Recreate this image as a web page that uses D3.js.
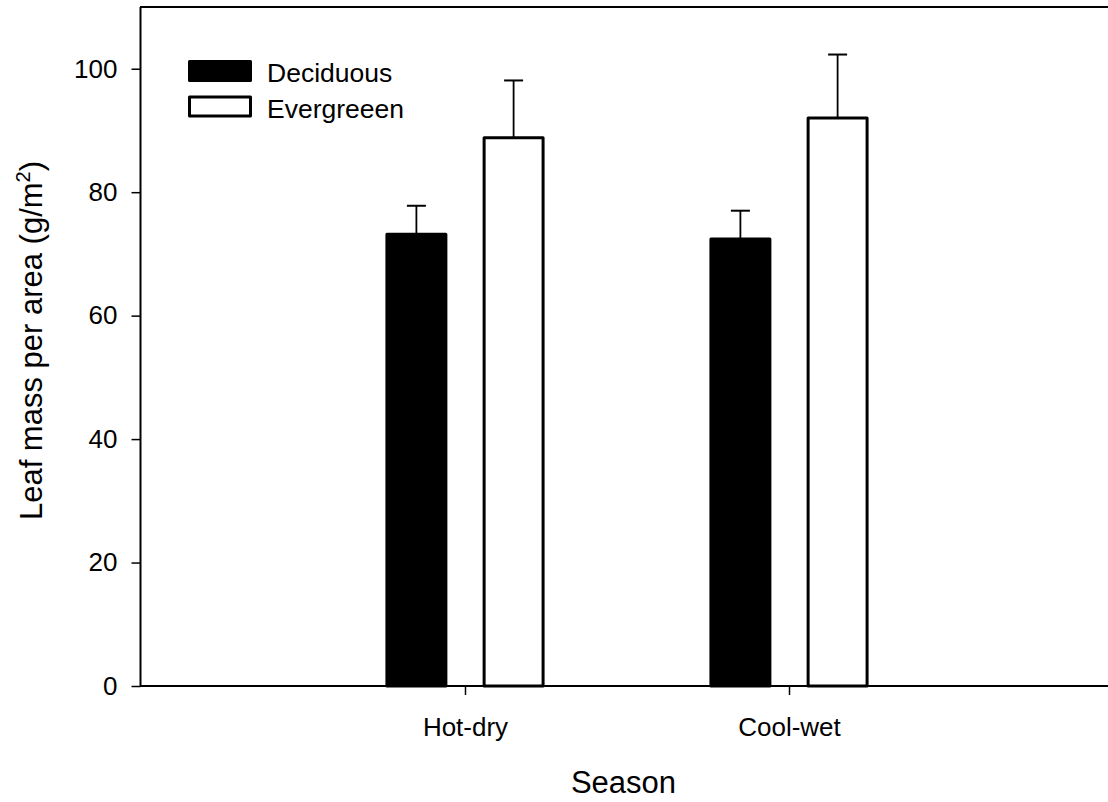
<!DOCTYPE html>
<html>
<head>
<meta charset="utf-8">
<script src="https://cdn.jsdelivr.net/npm/d3@7"></script>
<style>
  html, body { margin: 0; padding: 0; background: #fff; }
  svg { display: block; font-family: "Liberation Sans", Arial, Helvetica, sans-serif; }
</style>
</head>
<body>
<svg id="chart" width="1108" height="802"></svg>
<script>
// Leaf mass per area by season and leaf habit (mean + error)
const categories = ["Hot-dry", "Cool-wet"];
const seriesNames = ["Deciduous", "Evergreeen"];
const deciduousMean = [73.2, 72.4];
const deciduousErr = [4.6, 4.6];
const evergreenMean = [88.8, 92.0];
const evergreenErr = [9.3, 10.3];
const yTicks = [0, 20, 40, 60, 80, 100];

const svg = d3.select("#chart");

const plotLeft = 141, plotRight = 1113, plotTop = 7, plotBottom = 686;

// categories sit at positions 1 and 2 of a 0..3 axis
const x = d3.scaleLinear().domain([0, 3]).range([plotLeft, plotRight]);
const y = d3.scaleLinear().domain([0, 110]).range([plotBottom, plotTop]);

const barOffset = 0.15;   // in axis units
const barWidth = 0.182;   // in axis units
const strokeW = 3;

const series = [
  { name: seriesNames[0], mean: deciduousMean, err: deciduousErr, fill: "#000", off: -barOffset },
  { name: seriesNames[1], mean: evergreenMean, err: evergreenErr, fill: "#fff", off: barOffset }
];

// frame: top line
svg.append("line")
  .attr("x1", plotLeft - 1).attr("x2", 1108)
  .attr("y1", plotTop).attr("y2", plotTop)
  .attr("stroke", "#000").attr("stroke-width", 2);

// y axis
const yAxis = d3.axisLeft(y).tickValues(yTicks).tickSize(9).tickPadding(14).tickSizeOuter(0);
const gy = svg.append("g").attr("transform", `translate(${plotLeft - 0.5},0)`).call(yAxis);
gy.select(".domain").attr("stroke-width", 2).attr("d", `M0,${plotTop}V${plotBottom}`);
gy.selectAll(".tick line").attr("stroke-width", 1.5);
gy.selectAll(".tick text").attr("font-size", 26).attr("fill", "#000")
  .attr("font-family", "'Liberation Sans', Arial, sans-serif");

// x axis
const xAxis = d3.axisBottom(x).tickValues([1, 2])
  .tickFormat((d) => categories[d - 1]).tickSize(9).tickPadding(23).tickSizeOuter(0);
const gx = svg.append("g").attr("transform", `translate(0,${plotBottom})`).call(xAxis);
gx.select(".domain").attr("stroke-width", 2).attr("d", `M${plotLeft - 1},0H1108`);
gx.selectAll(".tick line").attr("stroke-width", 1.5);
gx.selectAll(".tick text").attr("font-size", 26).attr("fill", "#000")
  .attr("font-family", "'Liberation Sans', Arial, sans-serif");

// bars and error bars
const bw = x(barWidth) - x(0);
const capHalf = 9.5;
series.forEach((s) => {
  const g = svg.append("g");
  categories.forEach((c, i) => {
    const cx = x(i + 1 + s.off);
    g.append("line")
      .attr("x1", cx).attr("x2", cx)
      .attr("y1", y(s.mean[i])).attr("y2", y(s.mean[i] + s.err[i]))
      .attr("stroke", "#000").attr("stroke-width", 1.8);
    g.append("line")
      .attr("x1", cx - capHalf).attr("x2", cx + capHalf)
      .attr("y1", y(s.mean[i] + s.err[i])).attr("y2", y(s.mean[i] + s.err[i]))
      .attr("stroke", "#000").attr("stroke-width", 2);
    g.append("rect")
      .attr("x", cx - bw / 2)
      .attr("width", bw)
      .attr("y", y(s.mean[i]))
      .attr("height", y(0) - y(s.mean[i]))
      .attr("fill", s.fill)
      .attr("stroke", "#000")
      .attr("stroke-width", strokeW)
      .attr("stroke-linejoin", "round");
  });
});

// legend
const legend = svg.append("g").attr("transform", "translate(189.5,61.5)");
series.forEach((s, i) => {
  const row = legend.append("g").attr("transform", `translate(0,${i * 35.5})`);
  row.append("rect")
    .attr("width", 61).attr("height", 19)
    .attr("fill", s.fill).attr("stroke", "#000")
    .attr("stroke-width", strokeW).attr("stroke-linejoin", "round");
  row.append("text")
    .attr("x", 77.5).attr("y", 20.5)
    .attr("font-size", 26.5).attr("fill", "#000")
    .text(s.name);
});

// axis titles
svg.append("text")
  .attr("x", (x(0) + 1108) / 2 - 1).attr("y", 793)
  .attr("text-anchor", "middle")
  .attr("font-size", 31).attr("fill", "#000")
  .text("Season");

const yt = svg.append("text")
  .attr("transform", `translate(42,${(plotTop + plotBottom) / 2 - 6}) rotate(-90)`)
  .attr("text-anchor", "middle")
  .attr("font-size", 31).attr("fill", "#000");
yt.append("tspan").text("Leaf mass per area (g/m");
yt.append("tspan").attr("font-size", 20).attr("dy", -12).text("2");
yt.append("tspan").attr("dy", 12).text(")");
</script>
</body>
</html>
